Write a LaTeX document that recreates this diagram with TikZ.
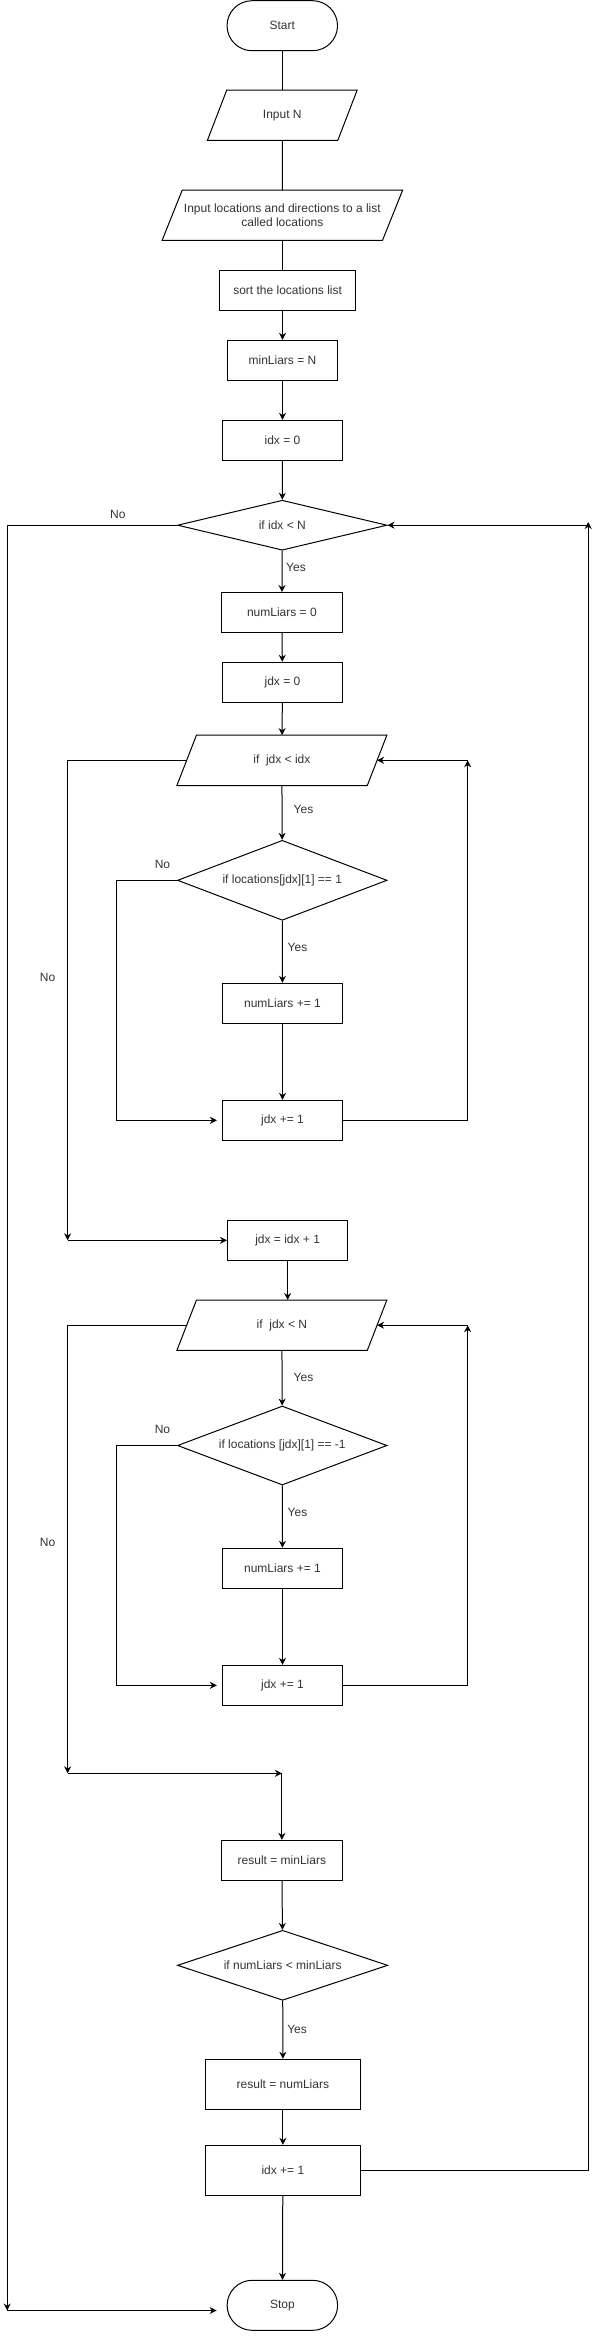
\documentclass[tikz,border=0pt]{standalone}
\usepackage{fontspec}
\setmainfont{Liberation Sans}
\usetikzlibrary{shapes.geometric,arrows.meta}
\definecolor{txt}{RGB}{51,51,51}
\newcommand{\parashape}[2]{\draw[conn] ([xshift=#2pt]#1.north west) -- ([xshift=#2pt]#1.north east) -- ([xshift=-#2pt]#1.south east) -- ([xshift=-#2pt]#1.south west) -- cycle;}
\begin{document}
\begin{tikzpicture}[x=0.995pt,y=-1pt,
  every node/.style={font=\fontsize{12pt}{14.5pt}\selectfont, text=txt},
  conn/.style={line width=1pt, draw=black},
  arr/.style={conn, -{Stealth[length=7pt,width=7pt]}},
  box/.style={draw, line width=1pt, rectangle, minimum width=120.2pt, minimum height=40pt, inner sep=2pt},
  term/.style={draw, line width=1pt, rounded corners=25pt, minimum width=110.5pt, minimum height=50pt},
  para/.style={rectangle, draw=none, minimum height=50pt, inner sep=2pt},
  dec/.style={diamond, draw, line width=1pt, inner sep=0pt},
  lbl/.style={inner sep=0pt}]
\useasboundingbox (0,0) rectangle (599,2351);

% nodes
\node[term] (start) at (283.7,25.7) {Start};
\node[para, minimum width=130pt] (inN) at (283.7,115.2) {Input N};
\parashape{inN}{9.7}
\node[para, minimum width=220pt, align=center] (inLoc) at (283.8,215.2) {Input locations and directions to a list\\called locations};
\parashape{inLoc}{10.1}
\node[box, minimum width=135.7pt] (sort) at (289.1,290.2) {sort the locations list};
\node[box, minimum width=110.2pt] (minL) at (283.9,360.3) {minLiars = N};
\node[box] (idx0) at (283.9,440.3) {idx = 0};
\node[dec, minimum width=209.5pt, minimum height=50pt, aspect=4.2] (d1) at (283.7,525.2) {if idx < N};
\node[box, minimum width=120.4pt] (num0) at (283.3,612.5) {numLiars = 0};
\node[box] (jdx0) at (283.9,682.3) {jdx = 0};
\node[para, minimum width=190pt] (p1) at (283.3,760.3) {if\ \ jdx < idx};
\parashape{p1}{9.8}
\node[dec, minimum width=209.5pt, minimum height=80pt, aspect=2.6] (d2) at (283.7,880.3) {if locations[jdx][1] == 1};
\node[box] (inc1) at (283.9,1003.3) {numLiars += 1};
\node[box] (jinc1) at (283.9,1120.3) {jdx += 1};
\node[box, minimum width=120.4pt] (jset) at (289.1,1240.3) {jdx = idx + 1};
\node[para, minimum width=190pt] (p2) at (283.3,1325.2) {if\ \ jdx < N};
\parashape{p2}{9.8}
\node[dec, minimum width=209.5pt, minimum height=79pt, aspect=2.66] (d3) at (283.7,1445.5) {if locations [jdx][1] == -1};
\node[box] (inc2) at (283.9,1568.3) {numLiars += 1};
\node[box] (jinc2) at (283.9,1685.3) {jdx += 1};
\node[box, minimum width=120.4pt] (res1) at (283.3,1860.3) {result = minLiars};
\node[dec, minimum width=210.3pt, minimum height=70pt, aspect=3] (d4) at (284.1,1965.3) {if numLiars < minLiars};
\node[box, minimum width=155.2pt, minimum height=50pt] (res2) at (284.3,2084.3) {result = numLiars};
\node[box, minimum width=155.2pt, minimum height=50pt] (idxinc) at (284.3,2170.3) {idx += 1};
\node[term] (stop) at (283.8,2305.3) {Stop};

% coordinates for bends
\coordinate (lbot) at (7.2,2310.5);
\coordinate (rtop) at (591.2,522);
\coordinate (r1) at (470,760.3);
\coordinate (l1) at (68,1240.3);
\coordinate (r2) at (470,1325.2);
\coordinate (l2) at (68,1773.3);

% connectors
\draw[conn] (start) -- (inN);
\draw[conn] (inN) -- (inLoc);
\draw[conn] (inLoc.south) -- (inLoc.south |- sort.north);
\draw[arr] (sort.south -| minL) -- (minL.north);
\draw[arr] (minL) -- (idx0);
\draw[arr] (idx0) -- (d1);
\draw[arr] (d1) -- (num0);
\draw[arr] (d1.west) -| (lbot);
\draw[arr, shorten >=10pt] (lbot) -- (lbot -| stop.west);
\draw[arr] (num0) -- (jdx0);
\draw[arr] (jdx0) -- (p1);
\draw[arr] (p1) -- (d2);
\draw[arr, shorten >=5pt] (d2.west) -- ++(-60.4,0) |- (jinc1.west);
\draw[arr] (d2) -- (inc1);
\draw[arr] (inc1) -- (jinc1);
\draw[arr] (jinc1.east) -| (r1);
\draw[arr] (r1) -- (p1.east);
\draw[arr] (p1.west) -| (l1);
\draw[arr] (l1) -- (jset.west);
\draw[arr] (jset.south) -- (jset.south |- p2.north);
\draw[arr] (p2) -- (d3);
\draw[arr, shorten >=5pt] (d3.west) -- ++(-60.4,0) |- (jinc2.west);
\draw[arr] (d3) -- (inc2);
\draw[arr] (inc2) -- (jinc2);
\draw[arr] (jinc2.east) -| (r2);
\draw[arr] (r2) -- (p2.east);
\draw[arr] (p2.west) -| (l2);
\draw[arr] (l2) -- (res1.north |- l2);
\draw[arr] (res1.north |- l2) -- (res1.north);
\draw[arr] (res1) -- (d4);
\draw[arr] (d4) -- (res2);
\draw[arr] (res2) -- (idxinc);
\draw[arr] (idxinc) -- (stop);
\draw[arr] (idxinc.east) -| (rtop);
\draw[arr] (rtop |- d1.east) -- (d1.east);

% labels
\node[lbl] (y1) at (297.5,567.3) {Yes};
\node[lbl] (y2) at (305,809.3) {Yes};
\node[lbl] (y3) at (299,947.7) {Yes};
\node[lbl] (y4) at (305,1377.7) {Yes};
\node[lbl] (y5) at (299,1512.7) {Yes};
\node[lbl] (y6) at (298.6,2029.3) {Yes};
\node[lbl] (n1) at (118.5,514.3) {No};
\node[lbl] (n2) at (163.3,864.3) {No};
\node[lbl] (n3) at (47.8,977.7) {No};
\node[lbl] (n4) at (163.3,1429.7) {No};
\node[lbl] (n5) at (47.8,1542.7) {No};
\end{tikzpicture}
\end{document}
